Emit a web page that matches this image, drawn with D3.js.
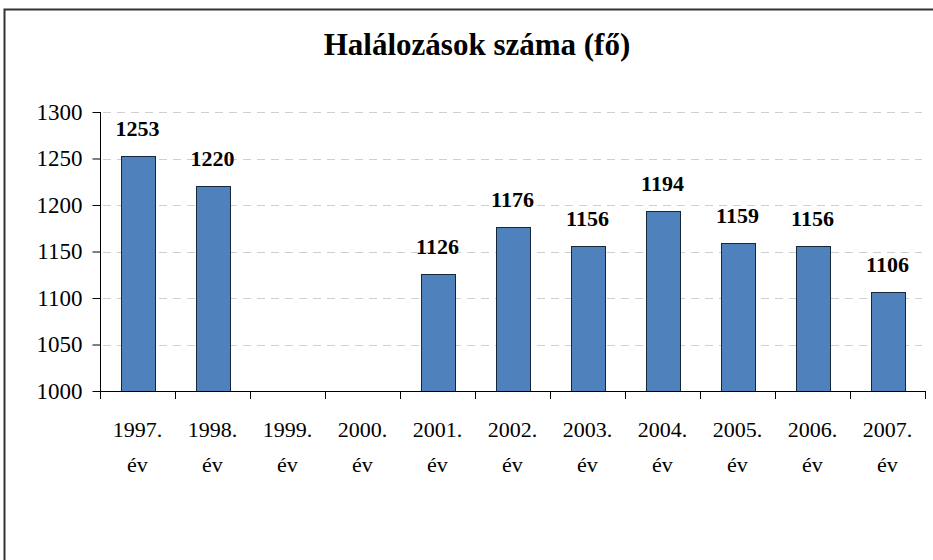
<!DOCTYPE html>
<html>
<head>
<meta charset="utf-8">
<script src="https://cdn.jsdelivr.net/npm/d3@7"></script>
<style>
  body { margin: 0; background: #fff; }
  svg text { font-family: "Liberation Serif", "Times New Roman", "DejaVu Serif", serif; }
</style>
</head>
<body>
<script>
let years = ["1997.", "1998.", "1999.", "2000.", "2001.", "2002.", "2003.", "2004.", "2005.", "2006.", "2007."];
let deaths = [1253, 1220, null, null, 1126, 1176, 1156, 1194, 1159, 1156, 1106];
let yTicks = [1000, 1050, 1100, 1150, 1200, 1250, 1300];
let title = "Halálozások száma (fő)";
let unit = "év";

let w = 933;
let h = 560;
let plotL = 100, plotR = 925, plotT = 112, plotB = 391;

let svg = d3.select("body").append("svg").attr("width", w).attr("height", h).style("display", "block");

// outer frame
svg.append("rect")
  .attr("x", 4.5).attr("y", 9.5)
  .attr("width", w).attr("height", h)
  .attr("fill", "none").attr("stroke", "#333").attr("stroke-width", 2);

svg.append("text")
  .text(title)
  .attr("x", 477).attr("y", 55)
  .attr("text-anchor", "middle")
  .attr("font-weight", "bold")
  .attr("font-size", "31px")
  .attr("fill", "#000");

let x = d3.scaleBand().domain(years).range([plotL, plotR]).paddingInner(0.55).paddingOuter(0.275);
let y = d3.scaleLinear().domain([1000, 1300]).range([plotB, plotT]);

// grid
svg.append("g").selectAll("line")
  .data(yTicks.filter(function(d) { return d > 1000; }))
  .enter()
  .append("line")
  .attr("x1", plotL + 3).attr("x2", plotR - 3)
  .attr("y1", function(d) { return Math.round(y(d)) + 0.5; })
  .attr("y2", function(d) { return Math.round(y(d)) + 0.5; })
  .attr("stroke", "#cfcfcf")
  .attr("stroke-dasharray", "8,6");

// bars
let data = years.map(function(d, i) { return { year: d, v: deaths[i] }; })
  .filter(function(d) { return d.v !== null; });

svg.append("g").selectAll("rect")
  .data(data)
  .enter()
  .append("rect")
  .attr("x", function(d) { return Math.round(x(d.year)) + 0.5; })
  .attr("y", function(d) { return Math.round(y(d.v)) + 0.5; })
  .attr("width", Math.round(x.bandwidth()))
  .attr("height", function(d) { return Math.round(plotB - y(d.v)); })
  .attr("fill", "#4f81bd")
  .attr("stroke", "#17273a")
  .attr("stroke-width", 1);

svg.append("g").selectAll("text")
  .data(data)
  .enter()
  .append("text")
  .text(function(d) { return d.v; })
  .attr("x", function(d) { return x(d.year) + x.bandwidth() / 2; })
  .attr("y", function(d) { return y(d.v) - 20; })
  .attr("text-anchor", "middle")
  .attr("font-weight", "bold")
  .attr("font-size", "22px");

// y axis
let yAxis = d3.axisLeft(y).tickValues(yTicks).tickSize(8).tickPadding(10).tickFormat(d3.format("d"));
let gy = svg.append("g").attr("transform", "translate(" + (plotL + 0.5) + ",0)").call(yAxis);
gy.select(".domain").attr("stroke", "#000").attr("d", "M0," + plotT + "V" + plotB);
gy.selectAll(".tick line").attr("stroke", "#000");
gy.selectAll(".tick text").attr("font-size", "23px").attr("fill", "#000");

// x axis
svg.append("line")
  .attr("x1", plotL).attr("x2", plotR)
  .attr("y1", plotB + 0.5).attr("y2", plotB + 0.5)
  .attr("stroke", "#000");

let bounds = years.map(function(d) { return x(d) - x.step() * 0.275; });
bounds.push(plotR);
svg.append("g").selectAll("line")
  .data(bounds)
  .enter()
  .append("line")
  .attr("x1", function(d) { return Math.round(d) + 0.5; })
  .attr("x2", function(d) { return Math.round(d) + 0.5; })
  .attr("y1", plotB).attr("y2", plotB + 8)
  .attr("stroke", "#000");

let xl = svg.append("g").selectAll("g")
  .data(years)
  .enter()
  .append("g");
xl.append("text")
  .text(function(d) { return d; })
  .attr("x", function(d) { return x(d) + x.bandwidth() / 2; })
  .attr("y", 437)
  .attr("text-anchor", "middle")
  .attr("font-size", "22px");
xl.append("text")
  .text(unit)
  .attr("x", function(d) { return x(d) + x.bandwidth() / 2; })
  .attr("y", 472)
  .attr("text-anchor", "middle")
  .attr("font-size", "22px");
</script>
</body>
</html>
